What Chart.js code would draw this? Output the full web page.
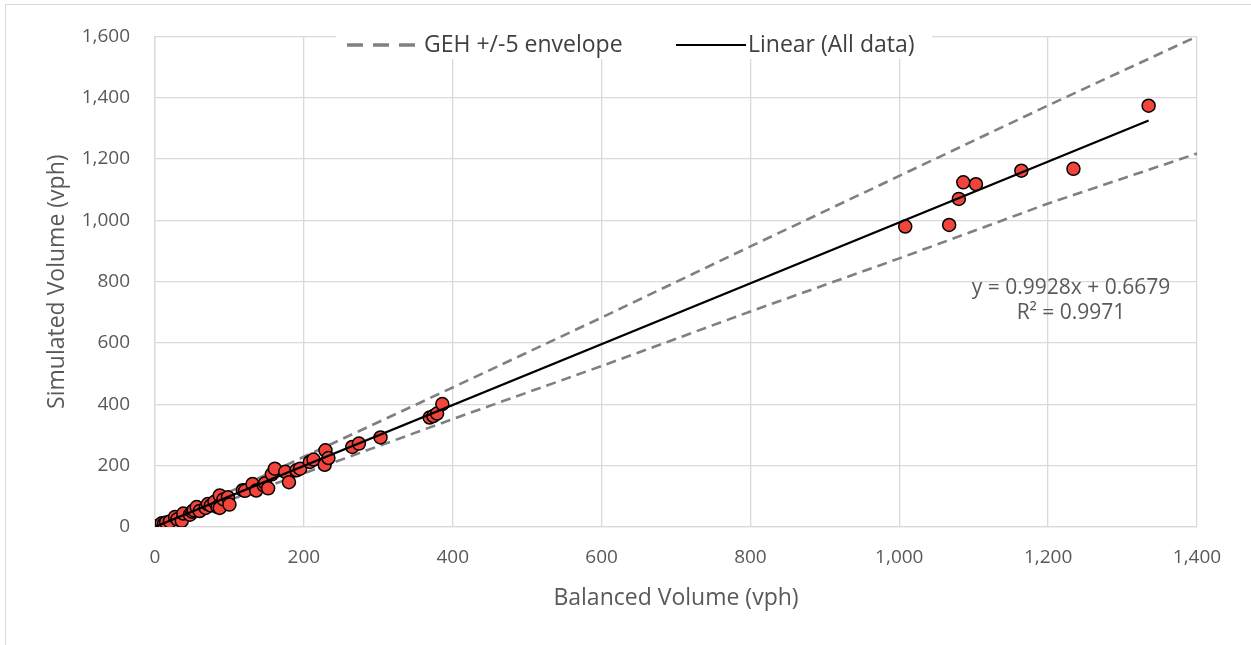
<!DOCTYPE html>
<html>
<head>
<meta charset="utf-8">
<script src="https://cdn.jsdelivr.net/npm/chart.js@4.4.1/dist/chart.umd.min.js"></script>
<style>
html,body{margin:0;padding:0;background:#fff;}
#wrap{position:relative;width:1251px;height:645px;}
canvas{display:block;}
</style>
</head>
<body>
<div id="wrap"><canvas id="c" width="1251" height="645"></canvas></div>
<script>
// Observed data: balanced (x) vs simulated (y)
const balanced = [1,3,5,9,12,15,20,27,30,36,38,47,50,52,56,60,68,71,75,80,84,87,87,92,98,100,118,121,131,136,146,148,152,157,161,175,180,190,195,208,213,228,229,233,265,274,303,369,374,379,386,1008,1067,1080,1086,1103,1164,1234,1335];
const simulated = [0,2,4,12,10,15,18,33,25,20,44,40,50,55,65,52,62,75,70,82,65,103,62,90,97,73,120,118,140,119,136,143,126,172,190,180,146,185,190,212,220,203,250,225,261,272,292,357,362,370,401,980,985,1070,1124,1118,1162,1168,1374];
// GEH +/-5 envelope
const gehX = [0,200,400,600,800,1000,1200,1400];
const gehUpper = [0,229,455,683,915,1145,1375,1600];
const gehLower = [0,175,352,525,703,876,1055,1218];
// Linear trendline (All data)
const trendX = [0,1335];
const trendY = [0.7,1326];
const trendLabel1 = 'y = 0.9928x + 0.6679';
const trendLabel2 = 'R² = 0.9971';
const xTicks = [0,200,400,600,800,1000,1200,1400];
const yTicks = [0,200,400,600,800,1000,1200,1400,1600];

const FONT = "'Open Sans', 'Liberation Sans', sans-serif";
const pts = (xs, ys) => xs.map((x,i)=>({x, y: ys[i]}));

const framePlugin = {
  id:'frame',
  beforeDraw(chart){
    const ctx = chart.ctx;
    ctx.save();
    ctx.fillStyle='#fff';
    ctx.fillRect(0,0,chart.width,chart.height);
    ctx.strokeStyle='#d9d9d9';
    ctx.lineWidth=1;
    ctx.strokeRect(5.5,4.5,3000,3000);
    ctx.restore();
  }
};

const legendPlugin = {
  id:'customLegend',
  beforeDatasetsDraw(chart){
    const ctx = chart.ctx;
    ctx.save();
    ctx.fillStyle='#fff';
    ctx.fillRect(336,35,596,24);
    ctx.font = "23px " + FONT;
    ctx.textBaseline='middle';
    ctx.fillStyle='#404040';
    const y = 45;
    ctx.strokeStyle='#808080';
    ctx.lineWidth=3.5;
    ctx.setLineDash([16,10]);
    ctx.beginPath(); ctx.moveTo(347,y); ctx.lineTo(421,y); ctx.stroke();
    ctx.setLineDash([]);
    ctx.fillText('GEH +/-5 envelope', 424, y);
    ctx.strokeStyle='#000';
    ctx.lineWidth=2;
    ctx.beginPath(); ctx.moveTo(676,y); ctx.lineTo(746,y); ctx.stroke();
    ctx.fillText('Linear (All data)', 748, y);
    ctx.restore();
  },
  afterDatasetsDraw(chart){
    const ctx = chart.ctx;
    ctx.save();
    ctx.font = "21px " + FONT;
    ctx.fillStyle='#595959';
    ctx.textAlign='center';
    ctx.textBaseline='middle';
    ctx.fillText(trendLabel1, 1071, 288);
    ctx.fillText(trendLabel2, 1071, 313);
    ctx.restore();
  }
};

new Chart(document.getElementById('c'), {
  type:'scatter',
  data:{
    datasets:[
      {label:'Linear (All data)', data: pts(trendX,trendY), showLine:true, borderColor:'#000', borderWidth:2.2, pointRadius:0, order:0},
      {label:'All data', data: pts(balanced,simulated), backgroundColor:'#f2443a', borderColor:'#000', borderWidth:1.5, pointRadius:6.5, order:1},
      {label:'GEH +/-5 envelope', data: pts(gehX,gehUpper), showLine:true, borderColor:'#808080', borderWidth:2.6, borderDash:[10,6], pointRadius:0, order:2},
      {label:'GEH lower', data: pts(gehX,gehLower), showLine:true, borderColor:'#808080', borderWidth:2.6, borderDash:[10,6], pointRadius:0, order:2}
    ]
  },
  options:{
    responsive:false,
    animation:false,
    layout:{padding:{left:44,top:33,right:54,bottom:33}},
    plugins:{legend:{display:false},tooltip:{enabled:false}},
    scales:{
      x:{
        type:'linear', min:0, max:1400,
        afterBuildTicks(s){ s.ticks = xTicks.map(v=>({value:v})); },
        afterFit(s){ s.height = 85; },
        grid:{color:'#d9d9d9', lineWidth:1.3, drawTicks:false},
        border:{color:'#d9d9d9', width:1.3},
        ticks:{padding:19, color:'#595959', font:{family:FONT, size:19}},
        title:{display:true, text:'Balanced Volume (vph)', color:'#595959', font:{family:FONT, size:23}, padding:0}
      },
      y:{
        type:'linear', min:0, max:1600,
        afterBuildTicks(s){ s.ticks = yTicks.map(v=>({value:v})); },
        afterFit(s){ s.width = 111; },
        grid:{color:'#d9d9d9', lineWidth:1.3, drawTicks:false},
        border:{color:'#d9d9d9', width:1.3},
        ticks:{padding:25, color:'#595959', font:{family:FONT, size:19}},
        title:{display:true, text:'Simulated Volume (vph)', color:'#595959', font:{family:FONT, size:23}, padding:0}
      }
    }
  },
  plugins:[framePlugin, legendPlugin]
});
</script>
</body>
</html>
